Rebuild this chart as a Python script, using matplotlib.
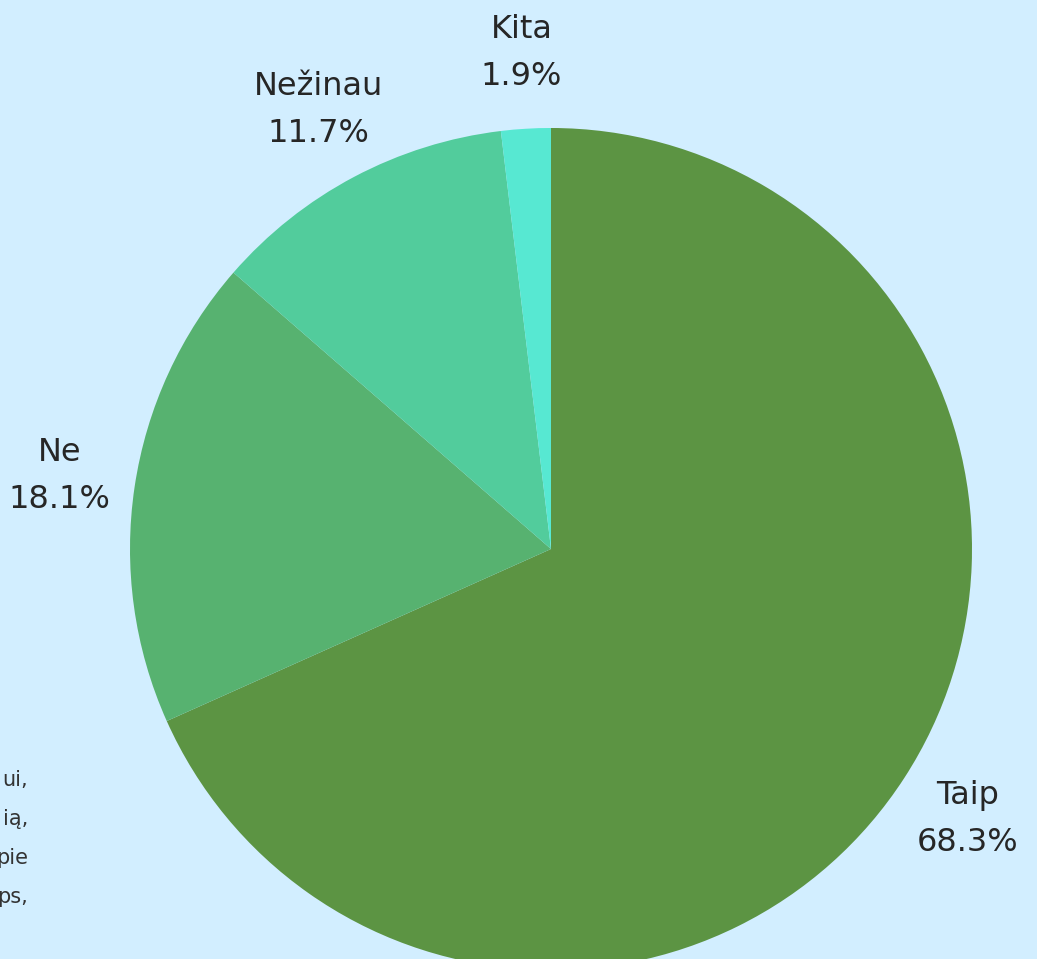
import matplotlib.pyplot as plt

labels = ["Taip", "Ne", "Nežinau", "Kita"]
shares = [68.3, 18.1, 11.7, 1.9]
colors = ["#5c9443", "#57b270", "#52cc9c", "#57e8d2"]
side_lines = ["ui,", "ią,", "pie", "ps,"]

bg = "#d2eeff"
W, H = 1037, 959

fig = plt.figure(figsize=(W / 100, H / 100), dpi=100, facecolor=bg)
plt.rcParams['font.family'] = ['DejaVu Sans']

# pie box in pixels: x 130..972, top 128, radius 421
ax = fig.add_axes([130 / W, (H - 970) / H, 842 / W, 842 / H])
ax.set_facecolor(bg)

pie_labels = [f"{l}\n{v}%" for l, v in zip(labels, shares)]
wedges, texts = ax.pie(
    shares,
    labels=pie_labels,
    colors=colors,
    startangle=90,
    counterclock=False,
    labeldistance=1.18,
    wedgeprops={'linewidth': 0},
    textprops={'fontsize': 23, 'color': '#262626', 'linespacing': 1.68},
)
for t in texts:
    t.set_ha("center")
    t.set_va("center")
    t.set_clip_on(False)
ax.set_xlim(-1, 1)
ax.set_ylim(-1, 1)
ax.axis("off")

# cut-off paragraph at the left edge
for i, s in enumerate(side_lines):
    fig.text(28 / W, 1 - (780 + i * 39) / H, s, ha="right", va="center",
             fontsize=15, color="#333333")

fig.savefig("out.png", dpi=100, facecolor=bg)
